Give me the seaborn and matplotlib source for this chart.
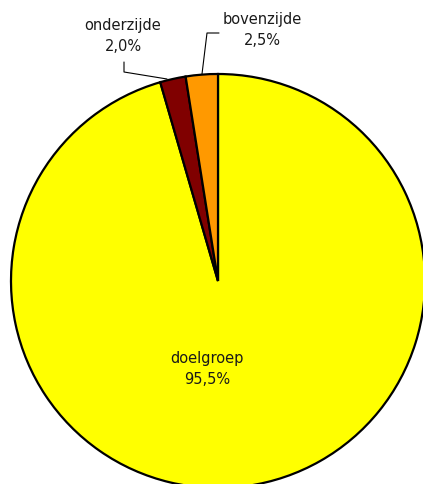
import matplotlib
matplotlib.use("Agg")
import matplotlib.pyplot as plt
import seaborn as sns

sns.set_theme(style="white")
plt.rcParams['font.family'] = ['DejaVu Sans']

categories = ["doelgroep", "onderzijde", "bovenzijde"]
values = [95.5, 2.0, 2.5]
value_labels = ["95,5%", "2,0%", "2,5%"]
colors = ["#FFFF00", "#800000", "#FF9900"]

fig = plt.figure(figsize=(4.23, 4.84), dpi=100)
ax = fig.add_axes([0, 0, 1, 1])

cx, cy, r = 218, 203, 207
ax.pie(values, colors=colors, startangle=90, counterclock=False,
       center=(cx, cy), radius=r, frame=True,
       wedgeprops=dict(edgecolor="black", linewidth=1.6))
ax.set_xlim(0, 423)
ax.set_ylim(0, 484)
ax.set_aspect('equal')
ax.axis('off')

fs = 10.5
tc = "#1a1a1a"
ax.text(207, 115, f"{categories[0]}\n{value_labels[0]}", ha="center", va="center",
        fontsize=fs, color=tc, linespacing=1.55)
ax.text(123, 448, f"{categories[1]}\n{value_labels[1]}", ha="center", va="center",
        fontsize=fs, color=tc, linespacing=1.45)
ax.text(262, 454, f"{categories[2]}\n{value_labels[2]}", ha="center", va="center",
        fontsize=fs, color=tc, linespacing=1.55)

ax.plot([124, 124, 167], [484-62, 484-72, 484-79], color="black", lw=0.8)
ax.plot([219, 207, 202], [484-33, 484-33, 484-74], color="black", lw=0.8)

fig.savefig("out.png", dpi=100)
